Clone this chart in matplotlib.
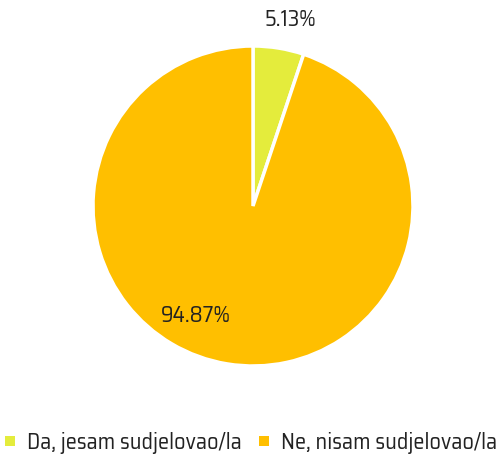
import matplotlib.pyplot as plt
from matplotlib.patches import Patch

labels = ['Da, jesam sudjelovao/la', 'Ne, nisam sudjelovao/la']
values = [5.13, 94.87]
colors = ['#e4ec3c', '#ffbf00']

plt.rcParams['font.family'] = ['Saira SemiCondensed', 'DejaVu Sans']

W, H = 502, 457
fig = plt.figure(figsize=(W / 100, H / 100), dpi=100)
cx, cy, r = 253, 206, 160
ax = fig.add_axes([(cx - r) / W, 1 - (cy + r) / H, 2 * r / W, 2 * r / H])

wedges, _ = ax.pie(values, colors=colors, startangle=90, counterclock=False,
                   wedgeprops=dict(edgecolor='white', linewidth=2.5))
ax.set_xlim(-1, 1)
ax.set_ylim(-1, 1)
ax.set_aspect('equal')

# label positions (data units of the pie, radius 1)
ax.text((290 - cx) / r, (cy - 20) / r, f'{values[0]:.2f}%', ha='center', va='center',
        fontsize=16, color='#222222')
ax.text((196 - cx) / r, (cy - 316) / r, f'{values[1]:.2f}%', ha='center', va='center',
        fontsize=16, color='#222222')

handles = [Patch(facecolor=c, edgecolor='none') for c in colors]
fig.legend(handles, labels, loc='center', bbox_to_anchor=(0.5, 1 - 443 / H), ncol=2,
           frameon=False, fontsize=16, handlelength=0.45, handleheight=0.315,
           handletextpad=0.55, columnspacing=0.75, labelcolor='#222222')

fig.savefig('out.png', dpi=100)
